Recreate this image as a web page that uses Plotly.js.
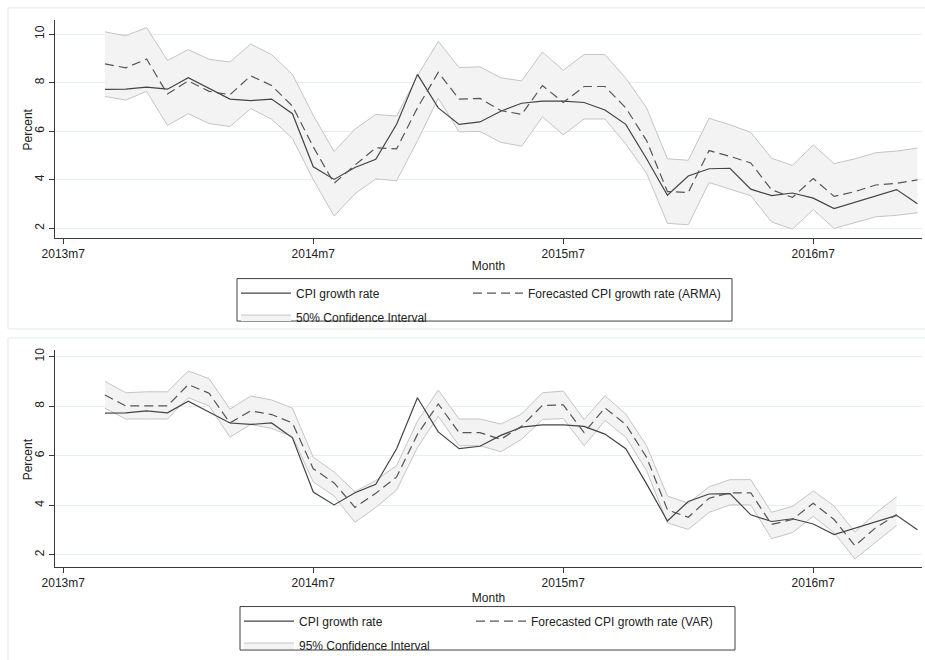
<!DOCTYPE html>
<html>
<head>
<meta charset="utf-8">
<script src="https://cdn.plot.ly/plotly-3.0.1.min.js"></script>
<style>
html,body{margin:0;padding:0;background:#ffffff;}
#chart{width:925px;height:660px;}
</style>
</head>
<body>
<div id="chart"></div>
<script>
// ---- data ----
const months = ["2013m9","2013m10","2013m11","2013m12","2014m1","2014m2","2014m3","2014m4","2014m5","2014m6",
  "2014m7","2014m8","2014m9","2014m10","2014m11","2014m12","2015m1","2015m2","2015m3","2015m4",
  "2015m5","2015m6","2015m7","2015m8","2015m9","2015m10","2015m11","2015m12","2016m1","2016m2",
  "2016m3","2016m4","2016m5","2016m6","2016m7","2016m8","2016m9","2016m10","2016m11","2016m12"];

const tickLabels = ["2013m7","2014m7","2015m7","2016m7"];
const yTicks = [2,4,6,8,10];

const cpi = [7.72,7.73,7.81,7.73,8.20,7.76,7.32,7.26,7.32,6.72,
  4.53,4.01,4.50,4.84,6.28,8.34,6.96,6.28,6.38,6.82,
  7.15,7.24,7.24,7.18,6.87,6.28,4.86,3.36,4.15,4.45,
  4.47,3.61,3.34,3.45,3.24,2.81,3.08,3.34,3.59,3.01];

const armaForecast = [8.77,8.61,8.97,7.53,8.07,7.64,7.50,8.28,7.88,7.03,
  5.35,3.85,4.60,5.31,5.27,6.96,8.42,7.32,7.35,6.85,
  6.69,7.88,7.18,7.84,7.84,6.96,5.61,3.51,3.47,5.20,
  4.96,4.69,3.58,3.27,4.05,3.31,3.51,3.78,3.85,3.99];

const armaUpper = [10.09,9.93,10.27,8.91,9.36,8.96,8.85,9.59,9.15,8.34,
  6.65,5.16,6.08,6.69,6.62,8.28,9.70,8.62,8.65,8.20,
  8.07,9.26,8.51,9.16,9.16,8.18,6.96,4.86,4.80,6.53,
  6.26,5.95,4.88,4.59,5.43,4.66,4.86,5.11,5.18,5.30];

const armaLower = [7.43,7.28,7.64,6.24,6.72,6.31,6.19,6.93,6.49,5.70,
  4.00,2.50,3.42,4.03,3.96,5.60,7.36,5.97,5.99,5.54,
  5.38,6.59,5.85,6.50,6.50,5.47,4.26,2.20,2.14,3.88,
  3.61,3.34,2.26,1.96,2.77,1.99,2.23,2.47,2.53,2.64];

const varForecast = [8.45,8.01,8.01,8.01,8.87,8.52,7.32,7.81,7.66,7.32,
  5.47,4.90,3.91,4.48,5.14,6.86,8.09,6.93,6.93,6.66,
  7.19,8.03,8.05,6.93,7.93,7.26,5.93,3.81,3.51,4.28,
  4.50,4.50,3.22,3.42,4.08,3.42,2.36,3.09,3.62];

const varUpper = [9.00,8.54,8.58,8.58,9.42,9.11,7.88,8.41,8.25,7.92,
  5.93,5.34,4.54,5.00,5.60,7.39,8.65,7.48,7.48,7.28,
  7.68,8.54,8.61,7.46,8.42,7.68,6.40,4.37,4.08,4.74,
  5.03,5.03,3.71,3.95,4.57,3.97,2.91,3.68,4.34];

const varLower = [7.92,7.48,7.48,7.48,8.34,8.01,6.75,7.26,7.10,6.77,
  4.94,4.37,3.31,3.91,4.61,6.33,7.59,6.40,6.40,6.16,
  6.66,7.46,7.50,6.40,7.42,6.75,5.40,3.28,3.02,3.71,
  4.01,4.01,2.65,2.89,3.55,2.89,1.83,2.49,3.18];

// ---- helpers ----
function monthIndex(lbl){ const p = lbl.split('m'); return (Number(p[0]) - 2013) * 12 + (Number(p[1]) - 7); }
const xAll = months.map(monthIndex);
const xVar = xAll.slice(0, varForecast.length);
const tickVals = tickLabels.map(monthIndex);

const W = 925, H = 660;
const px = v => v / W;
const py = v => 1 - v / H;

const bandLine = {color:'#c4c4c4', width:1};
const bandFill = '#f3f3f3';
const cpiLine = {color:'#444444', width:1.2};
const fcLine = {color:'#555555', width:1.2, dash:'9px,5px'};

const traces = [
  {x:xAll, y:armaLower, xaxis:'x', yaxis:'y', mode:'lines', line:bandLine, showlegend:false, hoverinfo:'skip'},
  {x:xAll, y:armaUpper, xaxis:'x', yaxis:'y', mode:'lines', line:bandLine, fill:'tonexty', fillcolor:bandFill,
   name:'50% Confidence Interval', legend:'legend', legendrank:2, legendgroup:'a2'},
  {x:xAll, y:cpi, xaxis:'x', yaxis:'y', mode:'lines', line:cpiLine, name:'CPI growth rate', legend:'legend', legendrank:1, legendgroup:'a1'},
  {x:xAll, y:armaForecast, xaxis:'x', yaxis:'y', mode:'lines', line:fcLine, name:'Forecasted CPI growth rate (ARMA)', legend:'legend2'},

  {x:xVar, y:varLower, xaxis:'x2', yaxis:'y2', mode:'lines', line:bandLine, showlegend:false, hoverinfo:'skip'},
  {x:xVar, y:varUpper, xaxis:'x2', yaxis:'y2', mode:'lines', line:bandLine, fill:'tonexty', fillcolor:bandFill,
   name:'95% Confidence Interval', legend:'legend3', legendrank:2, legendgroup:'b2'},
  {x:xAll, y:cpi, xaxis:'x2', yaxis:'y2', mode:'lines', line:cpiLine, name:'CPI growth rate', legend:'legend3', legendrank:1, legendgroup:'b1'},
  {x:xVar, y:varForecast, xaxis:'x2', yaxis:'y2', mode:'lines', line:fcLine, name:'Forecasted CPI growth rate (VAR)', legend:'legend4'}
];

const axisCommon = {
  showline:true, linecolor:'#3a3a3a', linewidth:1, ticks:'outside', ticklen:5, tickcolor:'#3a3a3a',
  zeroline:false, automargin:false, fixedrange:true, tickfont:{size:12, color:'#222'}
};
function xAxis(anchor, standoff){
  return Object.assign({}, axisCommon, {
    anchor:anchor, domain:[px(55), px(922)], range:[-0.398, 41.22],
    tickmode:'array', tickvals:tickVals, ticktext:tickLabels, showgrid:false,
    title:{text:'Month', standoff:standoff, font:{size:12, color:'#222'}}
  });
}
function yAxis(anchor, dom, rng){
  return Object.assign({}, axisCommon, {
    anchor:anchor, domain:dom, range:rng, tickmode:'array', tickvals:yTicks, tickangle:-90,
    showgrid:true, gridcolor:'#e6eef0', gridwidth:1
  });
}
function legendAt(xp, yp){
  return {x:px(xp), y:py(yp), xanchor:'left', yanchor:'top', orientation:'v', bgcolor:'rgba(0,0,0,0)',
          borderwidth:0, font:{size:12, color:'#222'}, itemwidth:50, tracegroupgap:5, traceorder:'grouped'};
}
function yTitle(ypix){
  return {text:'Percent', xref:'paper', yref:'paper', x:px(28), y:py(ypix), showarrow:false, textangle:-90,
          xanchor:'center', yanchor:'middle', font:{size:12, color:'#222'}};
}

const layout = {
  width:W, height:H, margin:{l:0, r:0, t:0, b:0},
  paper_bgcolor:'#ffffff', plot_bgcolor:'#ffffff',
  font:{family:'"Liberation Sans", Arial, Helvetica, sans-serif', size:12, color:'#222'},
  xaxis:xAxis('y', 1),
  yaxis:yAxis('x', [py(241), py(20)], [1.593, 10.59]),
  xaxis2:xAxis('y2', 4),
  yaxis2:yAxis('x2', [py(574), py(354)], [1.50, 10.28]),
  legend:legendAt(236, 282),
  legend2:legendAt(468, 282),
  legend3:legendAt(239, 614),
  legend4:legendAt(471, 614),
  annotations:[yTitle(131), yTitle(465)],
  shapes:[
    {type:'rect', xref:'paper', yref:'paper', x0:px(8), x1:px(1000), y0:py(333), y1:py(8), line:{color:'#e2eaec', width:1}, layer:'below'},
    {type:'rect', xref:'paper', yref:'paper', x0:px(8), x1:px(1000), y0:py(700), y1:py(342), line:{color:'#e2eaec', width:1}, layer:'below'},
    {type:'rect', xref:'paper', yref:'paper', x0:px(237), x1:px(732), y0:py(325), y1:py(282), line:{color:'#404040', width:1}},
    {type:'rect', xref:'paper', yref:'paper', x0:px(240), x1:px(735), y0:py(658), y1:py(614), line:{color:'#404040', width:1}}
  ],
  showlegend:true
};

Plotly.newPlot('chart', traces, layout, {displayModeBar:false, staticPlot:true});
</script>
</body>
</html>
